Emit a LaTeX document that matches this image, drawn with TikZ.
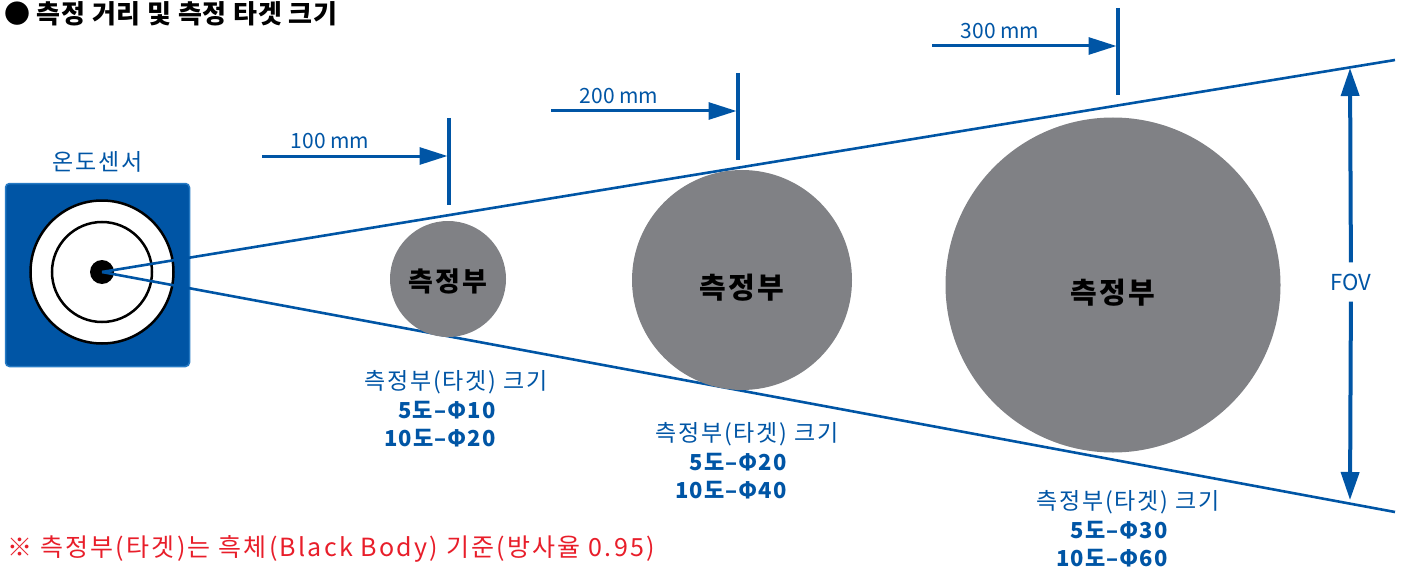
\documentclass[tikz,border=0pt]{standalone}
\usepackage{fontspec}
\setmainfont{Noto Sans CJK KR}
\newfontfamily\krwide{Noto Sans CJK KR}[LetterSpace=8]
\newfontfamily\krspaced{Noto Sans CJK KR}[LetterSpace=5]
\usetikzlibrary{arrows.meta,positioning}
\definecolor{sensorblue}{RGB}{0,85,165}
\definecolor{sensoredge}{RGB}{38,122,196}
\definecolor{spotgray}{RGB}{128,129,133}
\definecolor{notered}{RGB}{232,30,42}

\begin{document}
\begin{tikzpicture}[x=1pt,y=-1pt,
		fovline/.style={sensorblue,line width=2.6pt},
		marker/.style={sensorblue,line width=3.2pt},
		distarrow/.style={sensorblue,line width=3pt,shorten >=1.5pt,-{Triangle[length=28pt,width=17pt]}},
		fovarrow/.style={sensorblue,line width=4pt,-{Triangle[length=28pt,width=18pt]}},
		spot/.style={circle,fill=spotgray,inner sep=0pt},
		spottext/.style={inner sep=0pt,font=\krwide\bfseries\fontsize{29}{32}\selectfont},
		bluelabel/.style={text=sensorblue,inner sep=0pt,font=\fontsize{21}{24}\selectfont},
		sizetitle/.style={text=sensorblue,inner sep=0pt,font=\krwide\fontsize{23}{26}\selectfont},
		sizelabel/.style={text=sensorblue,inner sep=0pt,anchor=east,font=\krspaced\bfseries\fontsize{22}{24}\selectfont}]
	\useasboundingbox (0,0) rectangle (1405,575);
	% title
	\node[anchor=west,inner sep=0pt,font=\bfseries\fontsize{26}{28}\selectfont\addfontfeature{LetterSpace=3}] (title) at (4,14) {● 측정 거리 및 측정 타겟 크기};
	% sensor
	\node[draw=sensoredge,fill=sensorblue,line width=1.5pt,rounded corners=4pt,minimum width=184pt,minimum height=183pt] (sensor) at (97.5,275) {};
	\node[sizetitle,above=10pt of sensor] (sensorlabel) {온도센서};
	\node[circle,draw,fill=white,line width=2.5pt,minimum size=143pt] (outer) at (102,272) {};
	\node[circle,draw,line width=2.5pt,minimum size=100pt] (inner) at (outer.center) {};
	\node[circle,fill=black,inner sep=0pt,minimum size=24pt] (lens) at (outer.center) {};
	% field of view
	\coordinate (fovtop) at (1395,60);
	\coordinate (fovbot) at (1395,512);
	\draw[fovline] (lens.center) -- (fovtop);
	\draw[fovline] (lens.center) -- (fovbot);
	% targets
	\node[spot,minimum size=116pt] (spot1) at (448,279) {};
	\node[spot,minimum size=220pt] (spot2) at (742,280) {};
	\node[spot,minimum size=335pt] (spot3) at (1113,285) {};
	\node[spottext,font=\krwide\bfseries\fontsize{27}{30}\selectfont,below=2pt of spot1.center,anchor=center] (spottext1) {측정부};
	\node[spottext,below=8pt of spot2.center,anchor=center] (spottext2) {측정부};
	\node[spottext,below=8pt of spot3.center,anchor=center] (spottext3) {측정부};
	% distances
	\foreach \d/\mx/\ay/\ax in {100/449/156/262,200/738/111/551,300/1118/46/932}{
		\coordinate (mtop\d) at (\mx,\ay-38);
		\coordinate (mbot\d) at (\mx,\ay+49);
		\coordinate (start\d) at (\ax,\ay);
		\draw[marker] (mtop\d) -- (mbot\d);
		\draw[distarrow] (start\d) -- (start\d -| mtop\d);
		\node[bluelabel] (dist\d) at (\ax+68,\ay-15) {\d\ mm};
	}
	% FOV
	\coordinate (fovtip1) at (1350,68);
	\coordinate (fovtip2) at (1350,500);
	\node[bluelabel,font=\fontsize{22}{24}\selectfont,inner sep=11pt] (fov) at (1351,282) {FOV};
	\draw[fovarrow] (fov) -- (fovtip1);
	\draw[fovarrow] (fov) -- (fovtip2);
	% target sizes
	\foreach \n/\cx/\cy/\a/\b in {1/456/382/10/20,2/747/434/20/40,3/1128/502/30/60}{
		\node[sizetitle] (size\n) at (\cx,\cy) {측정부(타겟) 크기};
		\node[sizelabel] (narrow\n) at (\cx+40,\cy+28) {5도–Φ\a};
		\node[sizelabel] (wide\n) at (\cx+40,\cy+56) {10도–Φ\b};
	}
	% note
	\node[anchor=west,text=notered,inner sep=0pt,font=\fontsize{25}{28}\selectfont\addfontfeature{LetterSpace=9}] (note) at (7,549) {※ 측정부(타겟)는 흑체(Black Body) 기준(방사율 0.95)};
\end{tikzpicture}
\end{document}
